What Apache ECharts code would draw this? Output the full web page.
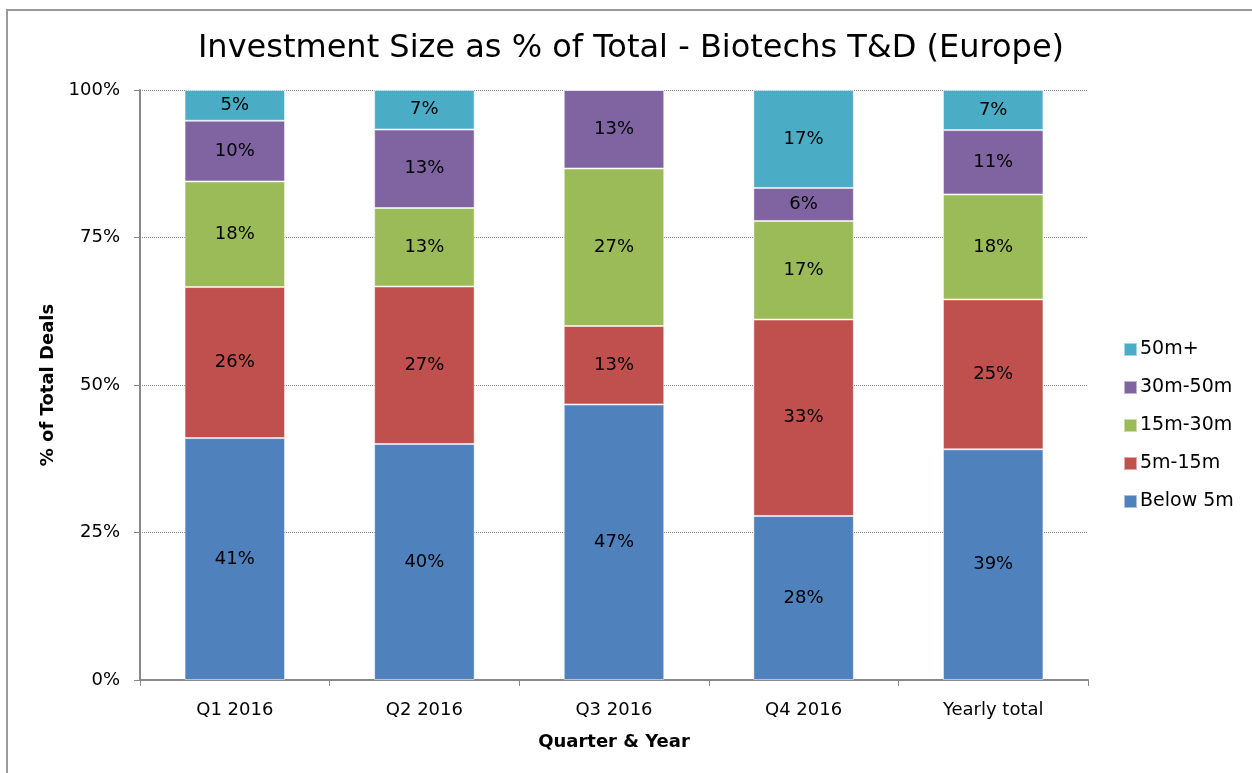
<!DOCTYPE html>
<html>
<head>
<meta charset="utf-8">
<script src="https://cdn.jsdelivr.net/npm/echarts@6/dist/echarts.min.js"></script>
<style>
  html, body { margin: 0; padding: 0; background: #fff; }
  #frame { position: absolute; left: 6px; top: 9px; width: 1300px; height: 800px;
           border-top: 2px solid #9a9a9a; border-left: 2px solid #9a9a9a; }
  #chart { position: absolute; left: 0; top: 0; width: 1252px; height: 773px; }
</style>
</head>
<body>
<div id="frame"></div>
<div id="chart"></div>
<script>
const categories = ['Q1 2016', 'Q2 2016', 'Q3 2016', 'Q4 2016', 'Yearly total'];
const seriesNames = ['Below 5m', '5m-15m', '15m-30m', '30m-50m', '50m+'];
const below5m  = [41.0, 40.0, 46.7, 27.8, 39.1];
const m5to15   = [25.6, 26.7, 13.3, 33.3, 25.4];
const m15to30  = [17.9, 13.3, 26.7, 16.7, 17.8];
const m30to50  = [10.3, 13.3, 13.3,  5.6, 10.9];
const m50plus  = [ 5.2,  6.7,  0.0, 16.6,  6.8];
const colors = ['#4f81bd', '#c0504d', '#9bbb59', '#8064a2', '#4bacc6'];

const font = 'DejaVu Sans';
const allData = [below5m, m5to15, m15to30, m30to50, m50plus];

const chart = echarts.init(document.getElementById('chart'));
chart.setOption({
  animation: false,
  color: colors,
  title: {
    text: 'Investment Size as % of Total - Biotechs T&D (Europe)',
    left: 626, top: 28, textAlign: 'center',
    textStyle: { fontFamily: font, fontSize: 32, fontWeight: 'normal', color: '#000' }
  },
  legend: {
    orient: 'vertical', left: 1118, top: 335, itemGap: 19,
    itemWidth: 13, itemHeight: 13, icon: 'rect',
    data: seriesNames.slice().reverse(),
    textStyle: { fontFamily: font, fontSize: 19, color: '#000', padding: [0, 0, 0, -2] }
  },
  grid: { left: 140, right: 164, top: 90, bottom: 93 },
  xAxis: {
    type: 'category', data: categories,
    name: 'Quarter & Year', nameLocation: 'middle', nameGap: 53,
    nameTextStyle: { fontFamily: font, fontSize: 18, fontWeight: 'bold', color: '#000' },
    axisLine: { lineStyle: { color: '#888', width: 2 } },
    axisTick: { show: true, length: 6, lineStyle: { color: '#888', width: 1 } },
    axisLabel: { fontFamily: font, fontSize: 18, color: '#000', margin: 21 }
  },
  yAxis: {
    type: 'value', min: 0, max: 100, interval: 25,
    name: '% of Total Deals', nameLocation: 'middle', nameGap: 82,
    nameTextStyle: { fontFamily: font, fontSize: 18, fontWeight: 'bold', color: '#000' },
    axisLine: { show: true, lineStyle: { color: '#888', width: 2 } },
    axisTick: { show: true, length: 6, lineStyle: { color: '#888' } },
    axisLabel: { fontFamily: font, fontSize: 18, color: '#000', margin: 20, formatter: '{value}%' },
    splitLine: { lineStyle: { color: '#888', type: [1, 1], width: 1 } }
  },
  series: seriesNames.map(function (name, i) {
    return {
      name: name, type: 'bar', stack: 'total', barWidth: '53%',
      data: allData[i],
      itemStyle: { borderColor: 'rgba(255,255,255,0.5)', borderWidth: 1 },
      label: {
        show: true, position: 'inside', fontFamily: font, fontSize: 18, color: '#000',
        formatter: function (p) { return p.value > 0 ? Math.round(p.value) + '%' : ''; }
      }
    };
  })
});
</script>
</body>
</html>
